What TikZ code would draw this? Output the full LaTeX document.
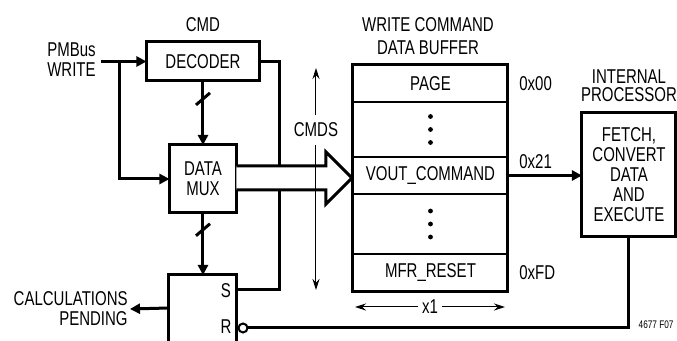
\documentclass[tikz,border=0pt]{standalone}
\usepackage{fontspec}
\setmainfont{Liberation Sans}[FakeStretch=0.75]
\usetikzlibrary{arrows.meta,positioning}
\begin{document}
\begin{tikzpicture}[x=0.5pt,y=-0.5pt,
  every node/.style={font=\fontsize{10}{10}\selectfont,inner sep=1pt,align=center},
  block/.style={draw,line width=1.5pt,inner sep=0pt,outer sep=0pt},
  bufrow/.style={draw,line width=0.6pt,minimum width=77.5pt,inner sep=0pt,outer sep=0pt},
  wire/.style={line width=1.5pt},
  arr/.style={-{Triangle[length=5pt,width=5pt]}},
  dimline/.style={line width=0.5pt,-{Stealth[length=5.5pt,width=3.5pt]}}]
\useasboundingbox (0,0) rectangle (677,341);
\node (cmdlbl) at (203,25) {CMD};
\node[block,minimum width=56.5pt,minimum height=19.5pt] (decoder) at (203,61.5) {DECODER};
\node[anchor=east,align=right] (pmbus) at (98,60) {PMBus\\WRITE};
\node[block,minimum width=33.5pt,minimum height=34pt] (mux) at (203,179) {DATA\\MUX};
\node[minimum width=34pt,minimum height=33pt,inner sep=0pt,outer sep=0pt] (latch) at (203,308) {};
\node (slbl) at (226,291) {S};
\node (rlbl) at (226,327) {R};
\node[circle,draw,line width=1pt,inner sep=0pt,minimum size=4.5pt] (bub) at (243,328) {};
\node[anchor=east,align=right] (calc) at (130,309) {CALCULATIONS\\PENDING};
\node (buftitle) at (428,36) {WRITE COMMAND\\[1.5pt]DATA BUFFER};
\node[bufrow,minimum height=18.5pt] (page) at (430.5,83.5) {PAGE};
\node[bufrow,minimum height=27.5pt,below=0pt of page] (dotsA) {};
\node[bufrow,minimum height=18.5pt,below=0pt of dotsA] (vout) {VOUT\_COMMAND};
\node[bufrow,minimum height=30pt,below=0pt of vout] (dotsB) {};
\node[bufrow,minimum height=19pt,below=0pt of dotsB] (mfr) {MFR\_RESET};
\node[anchor=west] (h00) at (517,84) {0x00};
\node[anchor=west] (h21) at (517,162) {0x21};
\node[anchor=west] (hfd) at (517,273) {0xFD};
\node[font=\fontsize{10}{9}\selectfont] (proctitle) at (629,86) {INTERNAL\\PROCESSOR};
\node[block,minimum width=47pt,minimum height=62pt] (proc) at (629,175) {FETCH,\\CONVERT\\DATA\\AND\\EXECUTE};
\node[inner ysep=4pt] (cmds) at (316,130) {CMDS};
\node[inner sep=2pt] (x1) at (430,307) {x1};
\node[anchor=east,font=\fontsize{5.5}{6}\selectfont] (fig) at (676,325) {4677 F07};
\coordinate (wr) at (101,61.5);
\coordinate (sp) at (120,61.5);
\coordinate (setc) at (280,290);
\coordinate (ctop) at (316,68);
\coordinate (cbot) at (316,290);
\coordinate (x1l) at (355,307);
\coordinate (x1r) at (505,307);
\draw[wire] (latch.south west) |- (latch.north east) -- (latch.south east);
\draw[wire] (page.north west) rectangle (mfr.south east);
\foreach \d in {-13,0,13} {
  \fill (dotsA.center) ++(0,\d) circle (1.2pt);
  \fill (dotsB.center) ++(0,\d) circle (1.2pt);
}
\draw[wire,arr] (wr) -- (decoder.west);
\draw[wire,arr] (sp) |- (mux.west);
\draw[wire,arr] (decoder.south) -- coordinate[pos=0.28] (b1) (mux.north);
\draw[wire] (b1) ++(-7,6) -- ++(14,-12);
\draw[wire,arr] (mux.south) -- coordinate[pos=0.27] (b2) (latch.north);
\draw[wire] (b2) ++(-7,6) -- ++(14,-12);
\draw[wire] (decoder.east) -| (setc) -- (latch.east |- setc);
\draw[wire,arr] (latch.west) -- (calc.east);
\draw[wire] (bub.east) -| (proc.south);
\draw[wire,arr] (vout.east) -- (vout.east -| proc.west);
\draw[wire,fill=white,line join=miter] (mux.east |- 0,166) -- (326,166) -- (326,152) -- (352,178) -- (326,204) -- (326,190) -- (mux.east |- 0,190);
\draw[dimline] (cmds) -- (ctop);
\draw[dimline] (cmds) -- (cbot);
\draw[dimline] (x1) -- (x1l);
\draw[dimline] (x1) -- (x1r);
\end{tikzpicture}
\end{document}
